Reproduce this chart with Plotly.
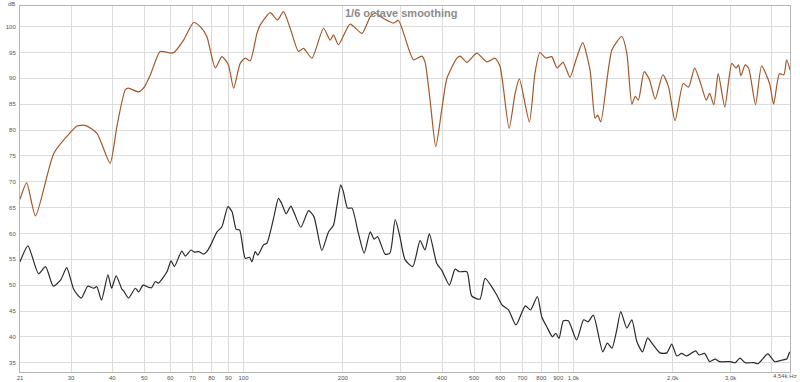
import math
import plotly.graph_objects as go

# ---- data ----
upper_freq = [21, 22, 23.4, 26.6, 30, 31.3, 33.1, 35.9, 39.4, 41.3, 43.8, 44.8, 48.1, 50, 52.2, 55.9,
              60, 61.5, 65.8, 70.6, 73.9, 77.4, 82.1, 86.0, 90, 93.3, 97.7, 101.2, 104.8, 109.8, 112.3,
              120.5, 126.8, 132.2, 138.5, 146.8, 152, 161.2, 174.8, 183.1, 187.4, 194, 210.5, 228.6,
              242.2, 250.8, 265.6, 284.8, 295, 305.9, 327.8, 347, 355, 367.8, 382.8, 399, 413.7, 443.8,
              454, 475.8, 510, 546.5, 579, 599.7, 638.8, 666, 686, 736, 765, 792, 826, 860, 893, 931,
              977, 1019, 1068, 1124, 1164, 1185, 1212, 1309, 1403, 1453, 1505, 1540, 1575, 1640, 1703,
              1771, 1868, 1943, 2035, 2154, 2236, 2333, 2442, 2530, 2590, 2667, 2750, 2880, 3024, 3116,
              3170, 3222, 3320, 3400, 3570, 3722, 3937, 4050, 4216, 4350, 4434, 4540]
upper_db = [66.6, 69.8, 63.4, 75.5, 79.7, 80.8, 80.9, 79.4, 73.6, 80.7, 87.8, 88.1, 87.4, 88.3, 90.7, 95.2,
            94.9, 95.0, 97.4, 100.8, 100.0, 98.1, 92.0, 94.2, 92.6, 88.1, 92.9, 93.9, 93.4, 98.7, 100.3,
            102.7, 101.3, 102.9, 99.7, 95.2, 95.8, 93.9, 99.7, 97.4, 98.4, 96.5, 100.5, 98.7,
            101.9, 102.6, 101.6, 100.7, 101.2, 98.7, 93.6, 94.3, 93.2, 85.8, 76.8, 83.9, 90.0, 93.9,
            94.3, 93.1, 94.9, 93.2, 93.9, 92.3, 80.3, 87.1, 89.9, 81.6, 91.0, 95.0, 93.9, 94.2, 92.0, 93.1,
            90.2, 93.6, 96.9, 91.6, 82.3, 82.9, 81.6, 95.5, 98.1, 94.9, 85.0, 86.5, 85.8, 91.3, 89.7,
            86.0, 90.7, 88.4, 81.8, 89.0, 88.3, 92.0, 88.7, 85.8, 87.1, 84.9, 90.9, 84.5, 92.9, 92.0,
            92.6, 90.5, 92.6, 92.0, 84.9, 92.4, 89.0, 85.0, 90.9, 90.7, 93.6, 91.6]

lower_freq = [21, 22.2, 23.9, 25.1, 26.5, 27.9, 29.1, 30.6, 32.2, 33.7, 35.1, 35.9, 37.1, 38.8, 39.8, 41.1,
              42.8, 43.3, 44.8, 47.0, 48.1, 49.6, 51.5, 52.6, 54.0, 55.2, 58.6, 60.3, 61.7, 65.0, 66.6,
              69.3, 70.9, 73.2, 75.6, 77.4, 79.3, 83.1, 86.0, 89.7, 92.3, 95.0, 97.3, 101.2, 104.3, 106,
              108.5, 110.5, 115, 117.7, 123.3, 127.6, 130.5, 134.7, 139.2, 142.6, 149.2, 157.5, 163.4,
              172.8, 181, 187.4, 191.8, 197.2, 200.8, 206.8, 213.2, 223, 232.2, 242.2, 249, 255, 268.8,
              278, 288.4, 298, 309, 326, 343, 355, 366, 385.5, 399, 421, 438, 451, 475.8, 492, 521, 540,
              586, 607.6, 636, 670, 715, 742, 778, 802, 830, 865, 885, 905, 933, 966, 1023, 1075, 1108,
              1150, 1228, 1268, 1309, 1354, 1393, 1453, 1505, 1558, 1621, 1680, 1730, 1832, 1922, 1988,
              2060, 2130, 2200, 2350, 2405, 2500, 2590, 2690, 2780, 2990, 3100, 3200, 3320, 3530, 3630,
              3889, 4080, 4290, 4440, 4510, 4540]
lower_db = [54.5, 57.6, 52.2, 53.6, 49.8, 51.0, 53.4, 49.1, 47.5, 49.8, 49.4, 49.7, 47.1, 52.0, 49.4, 51.8,
            49.2, 48.9, 47.5, 49.4, 48.7, 50.0, 49.6, 49.5, 50.7, 50.4, 52.6, 54.7, 53.6, 56.6, 55.6,
            56.8, 56.4, 56.5, 56.0, 56.5, 57.6, 60.3, 61.3, 65.2, 64.2, 60.8, 60.7, 55.2, 55.4, 54.5,
            56.5, 55.8, 57.8, 58.1, 62.9, 66.8, 65.8, 63.8, 65.3, 63.9, 61.2, 64.4, 63.3,
            56.7, 60.3, 61.6, 65.2, 69.4, 68.1, 64.9, 64.9, 60.0, 56.2, 60.3, 58.9, 59.4, 56.0,
            56.2, 62.7, 59.4, 54.9, 53.6, 58.6, 56.8, 59.9, 54.2, 52.9, 50.0, 53.1, 52.6, 52.6, 47.9, 47.3, 51.3,
            48.1, 46.2, 45.2, 42.3, 46.0, 45.2, 47.8, 43.9, 42.0, 40.0, 40.7, 39.7, 43.1, 43.1, 39.4, 43.3, 42.9,
            44.2, 37.1, 38.8, 37.8, 41.3, 44.9, 41.7, 43.3, 39.1, 37.1, 39.8, 38.8, 36.9, 36.9, 38.6,
            36.3, 36.8, 36.3, 37.3, 36.5, 36.8, 35.2, 35.7, 35.2, 35.2, 35.0, 35.9, 35.0, 35.0, 34.8,
            36.7, 35.2, 35.5, 35.7, 36.8, 37.1]

x_tick_vals = [30, 40, 50, 60, 70, 80, 90, 100, 200, 300, 400, 500, 600, 700, 800, 900, 1000, 2000, 3000, 4000]
x_tick_text = ["30", "40", "50", "60", "70", "80", "90", "100", "200", "300", "400", "500", "600", "700",
               "800", "900", "1,0k", "2,0k", "3,0k", ""]
y_tick_vals = [35, 40, 45, 50, 55, 60, 65, 70, 75, 80, 85, 90, 95, 100]

title_text = "1/6 octave smoothing"
x_min, x_max = 21, 4540
y_min, y_max = 33.2, 104.0

fig = go.Figure()
fig.add_trace(go.Scatter(x=upper_freq, y=upper_db, mode="lines",
                         line=dict(color="#a4582a", width=1.2, shape="spline", smoothing=0.6),
                         hoverinfo="skip", showlegend=False))
fig.add_trace(go.Scatter(x=lower_freq, y=lower_db, mode="lines",
                         line=dict(color="#2b2b2b", width=1.2, shape="spline", smoothing=0.6),
                         hoverinfo="skip", showlegend=False))

label_font = dict(family="Liberation Sans, Arial, sans-serif", size=6, color="#555555")

fig.update_layout(
    width=800, height=382,
    margin=dict(l=20, r=10, t=6, b=10),
    paper_bgcolor="white", plot_bgcolor="white",
    xaxis=dict(type="log", range=[math.log10(x_min), math.log10(x_max)], automargin=False,
               tickmode="array", tickvals=[x_min] + x_tick_vals, ticktext=["21"] + x_tick_text,
               showgrid=True, gridcolor="#dcdcdc", gridwidth=1,
               showline=True, linecolor="#b5b5b5", linewidth=1, mirror=True,
               ticks="", tickfont=label_font, zeroline=False, ticklabelstandoff=0),
    yaxis=dict(range=[y_min, y_max], tickmode="array", tickvals=y_tick_vals, automargin=False,
               showgrid=True, gridcolor="#dcdcdc", gridwidth=1,
               showline=True, linecolor="#b5b5b5", linewidth=1, mirror=True,
               ticks="", tickfont=label_font, zeroline=False, ticklabelstandoff=2),
    annotations=[
        dict(text="<b>%s</b>" % title_text, xref="paper", yref="paper", x=0.495, y=0.981,
             xanchor="center", yanchor="middle", showarrow=False,
             font=dict(family="Liberation Sans, Arial, sans-serif", size=11, color="#8c8c8c")),
        dict(text="dB", xref="paper", yref="paper", x=-0.004, y=1.0, xanchor="right", yanchor="bottom",
             showarrow=False, font=label_font, yshift=-3),
        dict(text="4,54k Hz", xref="x", yref="paper", x=math.log10(x_max), y=0, xanchor="right",
             yanchor="top", showarrow=False, font=label_font, xshift=9, yshift=1),
    ],
)

fig.write_html("out.html", config={"displayModeBar": False},
               post_script="document.body.style.margin='0px';document.body.style.overflow='hidden';")
